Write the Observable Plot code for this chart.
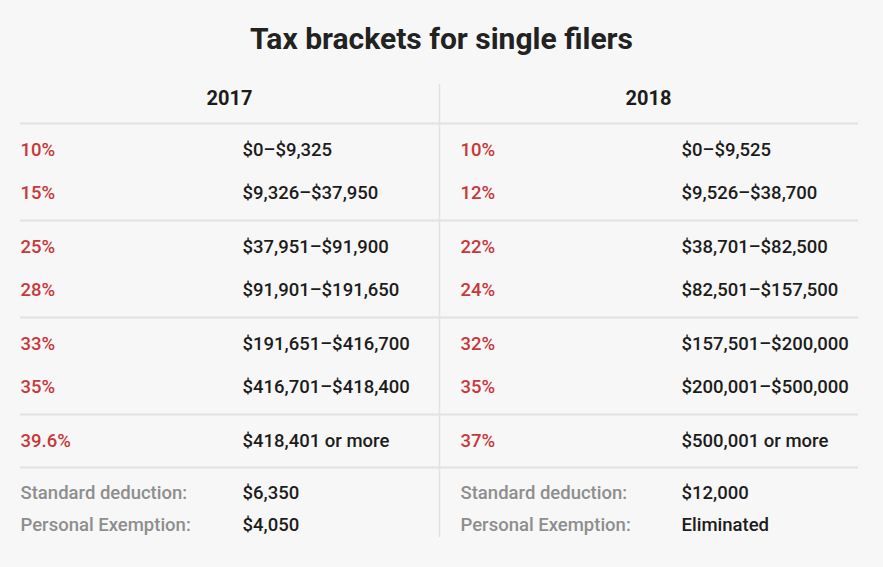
<!DOCTYPE html>
<html>
<head>
<meta charset="utf-8">
<script src="https://cdn.jsdelivr.net/npm/d3@7"></script>
<script src="https://cdn.jsdelivr.net/npm/@observablehq/plot@0.6"></script>
<style>
  html, body { margin: 0; padding: 0; background: #f7f7f7; }
  #wrap { width: 883px; height: 567px; overflow: hidden; }
  #title { height: 68px; display: flex; align-items: center; justify-content: center;
           font-family: Roboto, sans-serif; font-weight: 700; font-size: 30px; color: #222; }
  #title span { display: inline-block; padding-top: 8px; }
</style>
</head>
<body>
<div id="wrap">
  <div id="title"><span>Tax brackets for single filers</span></div>
  <div id="chart"></div>
</div>
<script>
// ---- data ----
const title = "Tax brackets for single filers";
const years = ["2017", "2018"];
const rates2017 = ["10%", "15%", "25%", "28%", "33%", "35%", "39.6%"];
const ranges2017 = ["$0–$9,325", "$9,326–$37,950", "$37,951–$91,900", "$91,901–$191,650",
                    "$191,651–$416,700", "$416,701–$418,400", "$418,401 or more"];
const rates2018 = ["10%", "12%", "22%", "24%", "32%", "35%", "37%"];
const ranges2018 = ["$0–$9,525", "$9,526–$38,700", "$38,701–$82,500", "$82,501–$157,500",
                    "$157,501–$200,000", "$200,001–$500,000", "$500,001 or more"];
const bracketGroup = [0, 0, 1, 1, 2, 2, 3];
const footLabels = ["Standard deduction:", "Personal Exemption:"];
const foot2017 = ["$6,350", "$4,050"];
const foot2018 = ["$12,000", "Eliminated"];

document.querySelector("#title span").textContent = title;

// ---- layout (table geometry) ----
const top0 = 68;                 // svg starts below the html title
const headerY = 98;
const firstLine = 123, groupStep = 97, rowOffset = 27, rowStep = 43;
const groupLines = d3.range(4).map(g => firstLine + g * groupStep);
const footLine = 467;
const footRowsY = [493, 525];
const colRate = [20, 460], colRange = [242, 681], colCenter = [229, 648];
const divider = 439;

const rowY = (g, i) => firstLine + g * groupStep + rowOffset + i * rowStep;
const within = bracketGroup.map((g, k) => bracketGroup.slice(0, k).filter(v => v === g).length);

const cells = [];
[[rates2017, ranges2017], [rates2018, ranges2018]].forEach(([rates, ranges], c) => {
  rates.forEach((r, k) => {
    const y = rowY(bracketGroup[k], within[k]);
    cells.push({x: colRate[c], y, text: r, kind: "rate"});
    cells.push({x: colRange[c], y, text: ranges[k], kind: "value"});
  });
});
[foot2017, foot2018].forEach((vals, c) => {
  vals.forEach((v, k) => {
    cells.push({x: colRate[c], y: footRowsY[k], text: footLabels[k], kind: "label"});
    cells.push({x: colRange[c], y: footRowsY[k], text: v, kind: "value"});
  });
});
const headers = years.map((t, c) => ({x: colCenter[c], y: headerY, text: t}));
const hLines = [...groupLines, footLine];

const fills = {rate: "#c8373a", value: "#1c1c1c", label: "#8e8e8e"};

const plot = Plot.plot({
  width: 883,
  height: 567 - top0,
  margin: 0,
  x: {type: "linear", domain: [0, 883], range: [0, 883], axis: null},
  y: {type: "linear", domain: [top0, 567], range: [0, 567 - top0], axis: null},
  style: {fontFamily: "Roboto, sans-serif", background: "#f7f7f7", overflow: "visible"},
  marks: [
    Plot.ruleX([divider], {y1: 84, y2: 537, stroke: "#e2e2e2", strokeWidth: 1.5}),
    Plot.ruleY(hLines, {x1: 20, x2: 858, stroke: "#e2e2e2", strokeWidth: 2}),
    Plot.text(headers, {x: "x", y: "y", text: "text", fontSize: 20, fontWeight: 700, fill: "#1c1c1c"}),
    Plot.text(cells, {x: "x", y: "y", text: "text", textAnchor: "start", fontSize: 18.5, fontWeight: 500,
                      fill: d => fills[d.kind]})
  ]
});
document.getElementById("chart").appendChild(plot);
</script>
</body>
</html>
